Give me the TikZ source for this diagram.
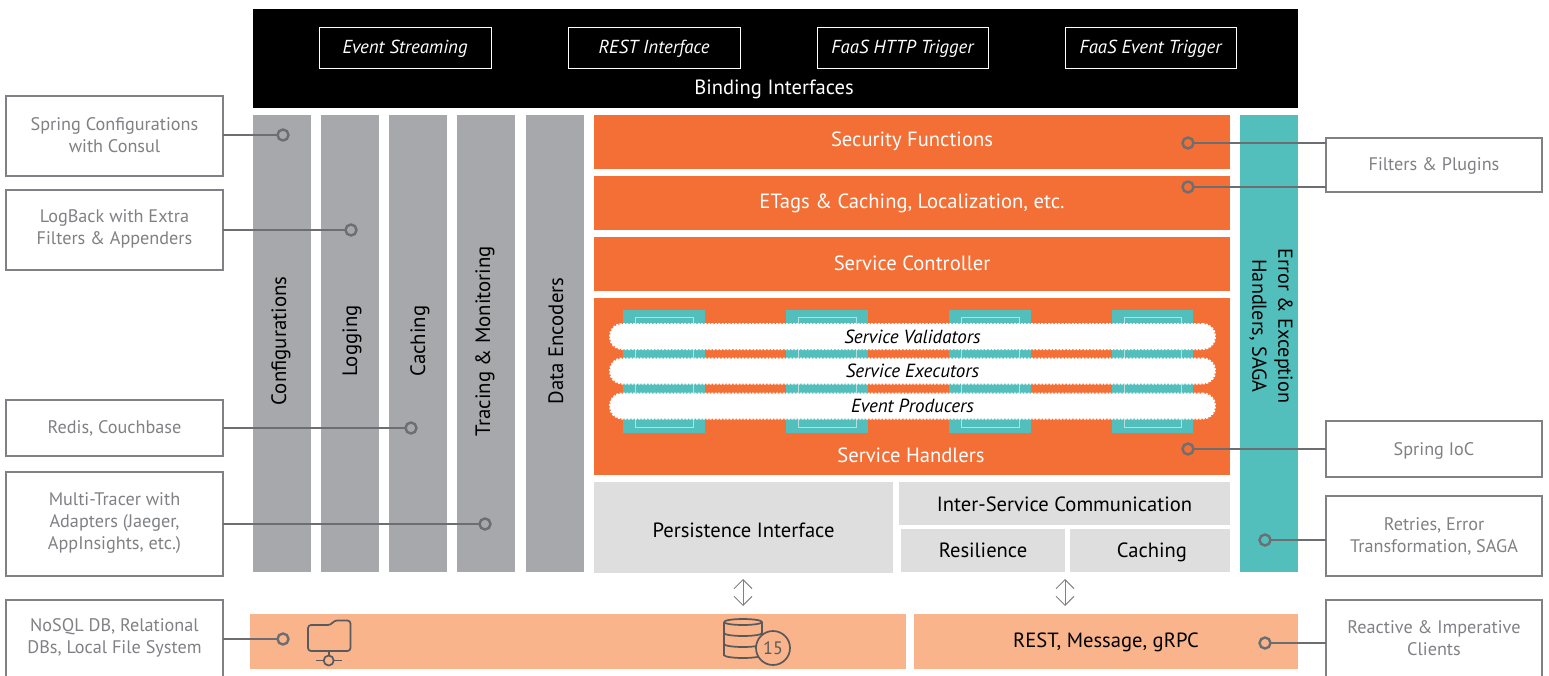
\documentclass[tikz,border=0pt]{standalone}
\usepackage{fontspec}
\setmainfont{PT Sans}
\usetikzlibrary{arrows.meta}
\definecolor{orng}{HTML}{F46F36}
\definecolor{teal2}{HTML}{52BFBD}
\definecolor{gry}{HTML}{A7A8AB}
\definecolor{lgry}{HTML}{DEDEDE}
\definecolor{peach}{HTML}{F9B48B}
\definecolor{edge}{HTML}{808184}
\definecolor{ringc}{HTML}{6D6E71}
\definecolor{icon}{HTML}{58595B}
\definecolor{innerl}{HTML}{B5E0DD}
\newcommand{\bx}[7][]{\node[blk,#1,#6,minimum width={(#4-#2)*1pt},minimum height={(#5-#3)*1pt}] (#7) at ({(#2+#4)/2},{(#3+#5)/2}) {};}
% box with a text shifted separately (optional argument, upwards), the box itself stays in place
\newcommand{\lbl}[8][0]{\node[blk,#6,align=center,minimum width={(#4-#2)*1pt},minimum height={(#5-#3)*1pt}] (#7) at ({(#2+#4)/2},{(#3+#5)/2}) {\raisebox{\dimexpr#1pt-0.25em\relax}[0pt][0pt]{\begin{tabular}{@{}c@{}}#8\end{tabular}}};}
\tikzset{
 x=1pt,y=-1pt,
 blk/.style={inner sep=0pt,outer sep=0pt,rectangle},
 note/.style={draw=edge,line width=1.1pt,fill=white,text=edge,font=\fontsize{18.2}{22}\selectfont},
 notet/.style={text=edge,align=center,font=\fontsize{18.2}{22}\selectfont},
 iface/.style={draw=white,line width=1pt,text=white,font=\fontsize{18.8}{22}\selectfont\itshape},
 bar/.style={fill=gry,text=black},
 wtxt/.style={text=white,font=\fontsize{20.6}{24}\selectfont},
 btxt/.style={text=black,font=\fontsize{20.6}{24}\selectfont},
 vtxt/.style={text=black,font=\fontsize{20.8}{26}\selectfont,rotate=90},
 org/.style={fill=orng},
 sub/.style={fill=lgry},
 pch/.style={fill=peach},
 ring/.style={circle,draw=ringc,line width=2.4pt,minimum size=11pt,inner sep=0pt,outer sep=0pt},
 conn/.style={draw=ringc,line width=1.2pt},
 pill/.style={blk,fill=white,rounded corners=12pt,draw=white,line width=2pt,dash pattern=on 2pt off 1.4pt,minimum width=605pt,minimum height=25pt,text=black,font=\fontsize{19}{22}\selectfont\itshape},
 updown/.style={draw=edge,line width=1pt,{Straight Barb[width=18pt,length=9pt]}-{Straight Barb[width=18pt,length=9pt]}},
 ico/.style={draw=icon,line width=1.7pt,line join=round},
}
\begin{document}
\begin{tikzpicture}
\useasboundingbox (0,0) rectangle (1549,675);
% top
\bx{253}{9}{1298}{108}{fill=black}{top}
\lbl[-1]{319}{27}{491}{68}{iface}{i1}{Event Streaming}
\lbl[-1]{568}{27}{740}{68}{iface}{i2}{REST Interface}
\lbl[-1]{817}{27}{988}{68}{iface}{i3}{FaaS HTTP Trigger}
\lbl[-1]{1065}{27}{1236}{68}{iface}{i4}{FaaS Event Trigger}
\node[wtxt] (bindt) at (774,89.5) {Binding Interfaces};
% grey bars
\bx{253}{115}{311}{572}{bar}{b1}
\bx{321}{115}{379}{572}{bar}{b2}
\bx{389}{115}{447}{572}{bar}{b3}
\bx{457}{115}{515}{572}{bar}{b4}
\bx{526}{115}{584}{572}{bar}{b5}
\node[vtxt] (t1) at (281,341) {Configurations};
\node[vtxt] (t2) at (352,341) {Logging};
\node[vtxt] (t3) at (420,341) {Caching};
\node[vtxt] (t4) at (485,341) {Tracing \& Monitoring};
\node[vtxt] (t5) at (556,341) {Data Encoders};
% orange
\lbl{594}{115}{1230}{169}{org,wtxt}{o1}{Security Functions}
\lbl[-1]{594}{176}{1230}{230}{org,wtxt}{o2}{ETags \& Caching, Localization, etc.}
\lbl[-2]{594}{237}{1230}{291}{org,wtxt}{o3}{Service Controller}
\bx{594}{298}{1230}{475}{org}{o4}
\node[wtxt] (o4t) at (911,455) {Service Handlers};
\foreach \a/\b/\c/\d/\n in {623/705/635/693/1,786/868/798/856/2,949/1031/961/1019/3,1112/1193/1124/1181/4}{
 \bx{\a}{310}{\b}{433}{fill=teal2}{h\n}
 \bx{\c}{317}{\d}{427}{draw=innerl,line width=0.8pt}{hi\n}
}
\node[pill] (p1) at (912.5,336.5) {Service Validators};
\node[pill] (p2) at (912.5,371) {Service Executors};
\node[pill] (p3) at (912.5,406) {Event Producers};
% lower
\lbl[-5.5]{594}{482}{893}{573}{sub,btxt}{s1}{Persistence Interface}
\lbl[-3]{899}{482}{1230}{525}{sub,btxt}{s2}{Inter-Service Communication}
\lbl[-2.5]{901}{529}{1065}{572}{sub,btxt}{s3}{Resilience}
\lbl[-2.5]{1070}{529}{1230}{572}{sub,btxt}{s4}{\hspace{4pt}Caching}
% teal bar
\bx{1240}{115}{1298}{572}{fill=teal2}{eb}
\node[vtxt,rotate=180,align=center,font=\fontsize{20.2}{26}\selectfont] (ebt) at (1271,326) {Error \& Exception\\Handlers, SAGA};
% peach
\bx{250}{614}{906}{669}{pch}{d1}
\lbl[-1.5]{914}{614}{1298}{669}{pch,btxt}{d2}{REST, Message, gRPC}
% arrows
\coordinate (a1t) at (743,579); \coordinate (a1b) at (743,606);
\coordinate (a2t) at (1065,579); \coordinate (a2b) at (1065,606);
\draw[updown] (a1t) -- (a1b);
\draw[updown] (a2t) -- (a2b);
% notes
\bx{6}{96}{223}{176}{note}{n1}
\node[notet] (n1t) at (114.5,135) {Spring Configurations\\with Consul};
\bx{6}{190}{223}{270}{note}{n2}
\node[notet] (n2t) at (114.5,229) {LogBack with Extra\\Filters \& Appenders};
\lbl[-1]{6}{400}{223}{456}{note}{n3}{Redis, Couchbase}
\bx{6}{472}{223}{576}{note}{n4}
\node[notet] (n4t) at (114.5,523) {Multi-Tracer with\\Adapters (Jaeger,\\AppInsights, etc.)};
\bx{6}{600}{223}{681}{note}{n5}
\node[notet] (n5t) at (114.5,638) {NoSQL DB, Relational\\DBs, Local File System};
\lbl[-1]{1326}{138}{1542}{192}{note}{n6}{Filters \& Plugins}
\lbl[-2]{1326}{421}{1542}{477}{note}{n7}{Spring IoC}
\bx{1326}{496}{1542}{576}{note}{n8}
\node[notet] (n8t) at (1434,536) {Retries, Error\\Transformation, SAGA};
\bx{1326}{600}{1542}{681}{note}{n9}
\node[notet] (n9t) at (1434,638) {Reactive \& Imperative\\Clients};
% rings
\node[ring] (r1) at (283,135) {};
\node[ring] (r2) at (351,230) {};
\node[ring] (r3) at (411,428) {};
\node[ring] (r4) at (485,524) {};
\node[ring] (r5) at (283,639) {};
\node[ring] (r6) at (1188,143) {};
\node[ring] (r7) at (1188,187) {};
\node[ring] (r8) at (1188,449) {};
\node[ring] (r9) at (1265,540) {};
\node[ring] (r10) at (1265,643) {};
\draw[conn] (r1.west -| n1.east) -- (r1.west);
\draw[conn] (r2.west -| n2.east) -- (r2.west);
\draw[conn] (r3.west -| n3.east) -- (r3.west);
\draw[conn] (r4.west -| n4.east) -- (r4.west);
\draw[conn] (r5.west -| n5.east) -- (r5.west);
\draw[conn] (r6.east) -- (r6.east -| n6.west);
\draw[conn] (r7.east) -- (r7.east -| n6.west);
\draw[conn] (r8.east) -- (r8.east -| n7.west);
\draw[conn] (r9.east) -- (r9.east -| n8.west);
\draw[conn] (r10.east) -- (r10.east -| n9.west);
% folder icon
\draw[ico,rounded corners=3pt] (308,625) -- (331,625) -- (334,620.5) -- (350.5,620.5) -- (350.5,651) -- (308,651) -- cycle;
\draw[ico] (328.7,651) -- (328.7,655);
\draw[ico] (328.7,660.5) circle[radius=5];
\draw[ico] (316,660.5) -- (323.7,660.5) (333.7,660.5) -- (342,660.5);
% database icon
\draw[ico] (724,622) arc[start angle=180,end angle=360,x radius=19,y radius=-3] arc[start angle=0,end angle=180,x radius=19,y radius=-3];
\draw[ico] (724,622) -- (724,656) (762,622) -- (762,640);
\draw[ico] (724,633) arc[start angle=180,end angle=360,x radius=19,y radius=-3];
\draw[ico] (724,644) arc[start angle=180,end angle=360,x radius=19,y radius=-3];
\draw[ico] (724,655) arc[start angle=180,end angle=360,x radius=19,y radius=-3];
\node[circle,draw=icon,fill=peach,line width=1.7pt,minimum size=34pt,inner sep=0pt,text=icon,font=\fontsize{18}{20}\selectfont] (c15) at (773,648) {15};
\end{tikzpicture}
\end{document}
